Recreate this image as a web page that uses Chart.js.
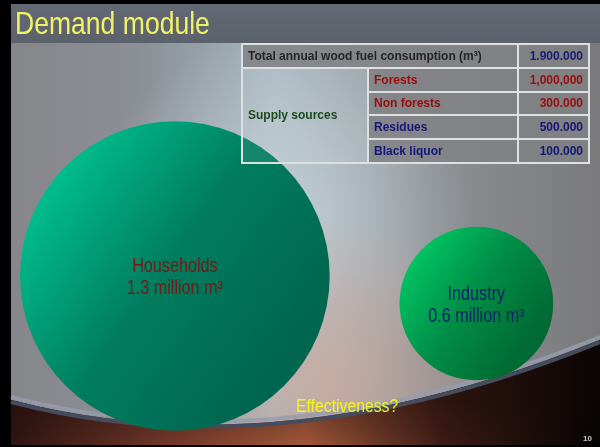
<!DOCTYPE html>
<html>
<head>
<meta charset="utf-8">
<script src="https://cdn.jsdelivr.net/npm/chart.js@4.4.1/dist/chart.umd.min.js"></script>
<style>
  html, body { margin: 0; padding: 0; background: #000; overflow: hidden; }
  #slide { position: relative; width: 600px; height: 447px; }
  #c { position: absolute; left: 0; top: 0; }
  .narrow { font-family: "Liberation Sans", Arial, sans-serif; transform: scaleX(0.83); transform-origin: 0 0; }
  #title { position: absolute; left: 15px; top: 3px; font-size: 32px; color: #f2f266; line-height: 40px; white-space: nowrap; }
  #question { position: absolute; left: 296px; top: 395px; font-size: 19px; color: #f4f41c; white-space: nowrap; }
  #pageNo { position: absolute; left: 583px; top: 434px; font: bold 8px "Liberation Sans", sans-serif; color: #c8c8c8; }
  #sourceTable { position: absolute; left: 241px; top: 43px; width: 347px; height: 121px; table-layout: fixed;
    border-collapse: collapse; font: bold 12px "Liberation Sans", Arial, sans-serif; }
  #sourceTable td { border: 2px solid #dedfe0; padding: 0 5px 0 5px; height: 20px; white-space: nowrap; overflow: visible; }
  #sourceTable td.grey { background: rgba(128, 129, 132, 0.85); }
  #sourceTable td.num { text-align: right; }
  #sourceTable td.side { background: rgba(255, 255, 255, 0.08); color: #1c4a1c; }
</style>
</head>
<body>
<div id="slide">
  <canvas id="c" width="600" height="447"></canvas>
  <div id="title" class="narrow">Demand module</div>
  <table id="sourceTable"></table>
  <div id="question" class="narrow">Effectiveness?</div>
  <div id="pageNo">10</div>
</div>
<script>
// demand per sector, million m³
const sectors = ['Households', 'Industry'];
const consumption = [1.3, 0.6];

// supply table
const totalLabel = 'Total annual wood fuel consumption (m³)';
const totalValue = '1.900.000';
const supplyGroup = 'Supply sources';
const sources = ['Forests', 'Non forests', 'Residues', 'Black liquor'];
const sourceValues = ['1,000,000', '300.000', '500.000', '100.000'];

const sourceColors = ['#9c0c0c', '#9c0c0c', '#16167a', '#16167a'];
const labelColors = ['#7a1616', '#14206a'];

// build the table
const table = document.getElementById('sourceTable');
let html = '<colgroup><col style="width:126px"><col style="width:150px"><col style="width:71px"></colgroup>';
html += '<tr><td class="grey" colspan="2" style="color:#262626">' + totalLabel +
  '</td><td class="grey num" style="color:#1a1a78">' + totalValue + '</td></tr>';
sources.forEach((s, i) => {
  html += '<tr>';
  if (i === 0) html += '<td class="side" rowspan="' + sources.length + '">' + supplyGroup + '</td>';
  html += '<td class="grey" style="color:' + sourceColors[i] + '">' + s + '</td>';
  html += '<td class="grey num" style="color:' + sourceColors[i] + '">' + sourceValues[i] + '</td>';
  html += '</tr>';
});
table.innerHTML = html;

// bubble size from volume
function radiusFor(v) {
  return 10 + 111.4 * v;
}

function bubbleFill(context, light, mid, dark) {
  const chart = context.chart;
  if (!chart.chartArea || !context.raw) return mid;
  const x = chart.scales.x.getPixelForValue(context.raw.x);
  const y = chart.scales.y.getPixelForValue(context.raw.y);
  const r = context.raw.r;
  const g = chart.ctx.createLinearGradient(x - r, y - r * 0.7, x + r * 0.7, y + r * 0.5);
  g.addColorStop(0, light);
  g.addColorStop(0.55, mid);
  g.addColorStop(1, dark);
  return g;
}

const fills = [
  ['#00cc98', '#007d5e', '#006650'],
  ['#00d068', '#008c46', '#006a32']
];

const backgroundPlugin = {
  id: 'slideBackground',
  beforeDraw(chart) {
    const ctx = chart.ctx;
    const w = chart.width;
    ctx.save();
    ctx.fillStyle = '#000';
    ctx.fillRect(0, 0, w, chart.height);

    let g = ctx.createLinearGradient(11, 0, w, 0);
    g.addColorStop(0, '#86868a');
    g.addColorStop(0.22, '#8b9096');
    g.addColorStop(0.45, '#a4b4be');
    g.addColorStop(0.7, '#8c9094');
    g.addColorStop(1, '#7a7a7c');
    ctx.fillStyle = g;
    ctx.fillRect(11, 4, w - 11, 441);

    let rg = ctx.createRadialGradient(285, 220, 0, 285, 220, 190);
    rg.addColorStop(0, 'rgba(205,216,222,0.75)');
    rg.addColorStop(1, 'rgba(205,216,222,0)');
    ctx.fillStyle = rg;
    ctx.fillRect(11, 4, w - 11, 441);

    rg = ctx.createRadialGradient(330, 385, 0, 330, 385, 170);
    rg.addColorStop(0, 'rgba(212,172,156,0.75)');
    rg.addColorStop(1, 'rgba(212,172,156,0)');
    ctx.fillStyle = rg;
    ctx.fillRect(11, 4, w - 11, 441);

    // floor below the curve
    const curve = () => {
      ctx.beginPath();
      ctx.moveTo(11, 400);
      ctx.quadraticCurveTo(280, 470, 600, 340);
    };
    const floor = () => {
      curve();
      ctx.lineTo(600, 445);
      ctx.lineTo(11, 445);
      ctx.closePath();
    };
    floor();
    g = ctx.createLinearGradient(11, 0, w, 0);
    g.addColorStop(0, '#2e1411');
    g.addColorStop(0.28, '#74392a');
    g.addColorStop(0.5, '#a0573a');
    g.addColorStop(0.74, '#3a1a14');
    g.addColorStop(1, '#050303');
    ctx.fillStyle = g;
    ctx.fill();
    floor();
    g = ctx.createLinearGradient(0, 400, 0, 445);
    g.addColorStop(0, 'rgba(20,8,6,0.35)');
    g.addColorStop(1, 'rgba(20,8,6,0)');
    ctx.fillStyle = g;
    ctx.fill();

    ctx.translate(0, -3);
    curve();
    ctx.strokeStyle = 'rgba(150,156,172,0.85)';
    ctx.lineWidth = 4;
    ctx.stroke();
    ctx.translate(0, 5);
    curve();
    ctx.strokeStyle = '#454c5c';
    ctx.lineWidth = 4;
    ctx.stroke();
    ctx.setTransform(1, 0, 0, 1, 0, 0);

    // title bar
    g = ctx.createLinearGradient(0, 4, 0, 43);
    g.addColorStop(0, '#626973');
    g.addColorStop(1, '#5b626c');
    ctx.fillStyle = g;
    ctx.fillRect(11, 4, w - 11, 39);
    ctx.restore();
  }
};

const labelPlugin = {
  id: 'bubbleLabels',
  afterDatasetsDraw(chart) {
    const ctx = chart.ctx;
    const meta = chart.getDatasetMeta(0);
    meta.data.forEach((el, i) => {
      ctx.save();
      ctx.translate(el.x, 0);
      ctx.scale(0.83, 1);
      ctx.font = '19.5px "Liberation Sans", Arial, sans-serif';
      ctx.textAlign = 'center';
      ctx.textBaseline = 'alphabetic';
      ctx.fillStyle = labelColors[i];
      ctx.fillText(sectors[i], 0, el.y - 4);
      ctx.fillText(consumption[i] + ' million m³', 0, el.y + 18);
      ctx.restore();
    });
  }
};

new Chart(document.getElementById('c'), {
  type: 'bubble',
  data: {
    datasets: [{
      label: 'Wood fuel demand',
      data: sectors.map((s, i) => ({ x: i, y: consumption[i], r: radiusFor(consumption[i]) })),
      backgroundColor: (ctx) => bubbleFill(ctx, ...fills[ctx.dataIndex]),
      borderWidth: 0,
      clip: false
    }]
  },
  options: {
    responsive: false,
    animation: false,
    events: [],
    layout: { padding: 0, autoPadding: false },
    plugins: { legend: { display: false }, tooltip: { enabled: false } },
    scales: {
      x: { type: 'linear', display: false, min: -0.58, max: 1.41 },
      y: { type: 'linear', display: false, min: -3.05, max: 8.32 }
    }
  },
  plugins: [backgroundPlugin, labelPlugin]
});
</script>
</body>
</html>
